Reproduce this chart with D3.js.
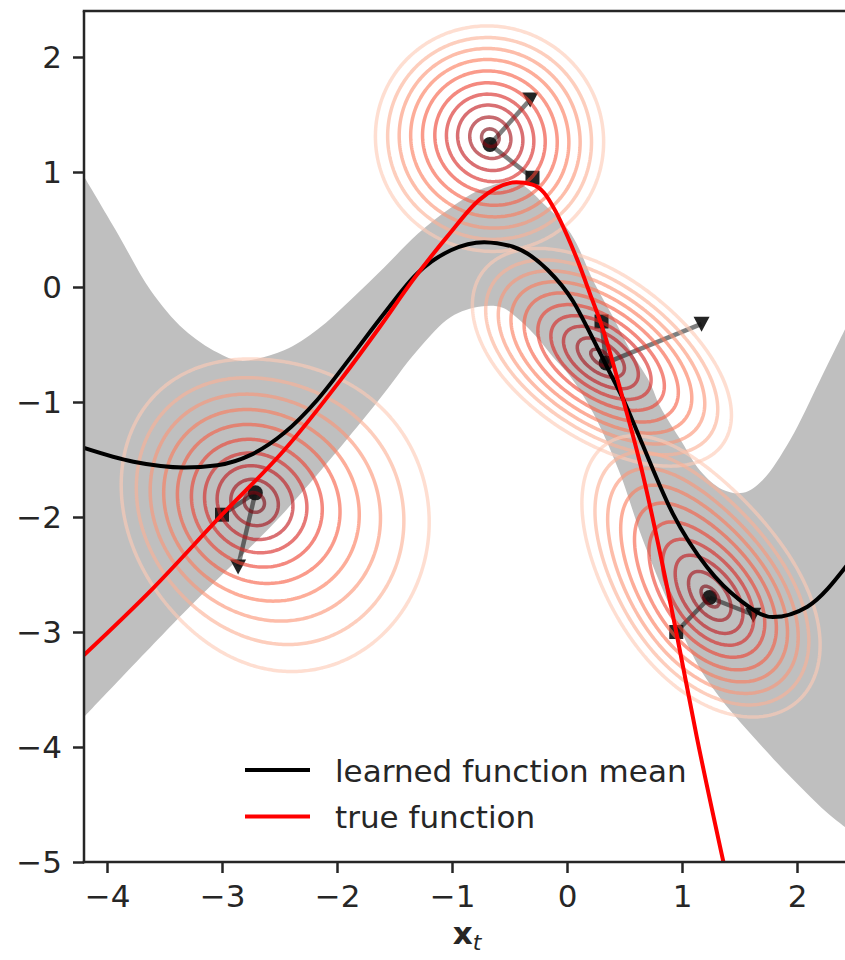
<!DOCTYPE html>
<html><head><meta charset="utf-8">
<script src="https://cdnjs.cloudflare.com/ajax/libs/d3/7.8.5/d3.min.js"></script>
<style>
body{margin:0;background:#fff}
svg text{font-family:"DejaVu Sans",sans-serif;fill:#262626}
</style>
</head><body>
<svg id="chart" width="845" height="960"></svg>
<script>
// ---------------- data ----------------
const meanX = [-4.2,-3.77,-3.33,-3.04,-2.75,-2.46,-2.17,-1.88,-1.59,-1.30,-1.01,-0.72,-0.47,-0.17,0.05,0.20,0.35,0.50,0.64,0.92,1.22,1.50,1.79,2.09,2.45];
const meanY = [-1.40,-1.52,-1.57,-1.55,-1.46,-1.27,-0.98,-0.61,-0.23,0.12,0.32,0.39,0.35,0.15,-0.12,-0.40,-0.70,-1.00,-1.33,-1.97,-2.44,-2.72,-2.87,-2.78,-2.40];

const trueX = [-4.2,-3.6,-3.0,-2.46,-1.97,-1.63,-1.34,-1.04,-0.76,-0.44,-0.30,-0.20,-0.10,0.0,0.10,0.20,0.30,0.48,0.64,0.95,1.13,1.36];
const trueY = [-3.2,-2.62,-1.98,-1.42,-0.81,-0.35,0.06,0.44,0.76,0.91,0.89,0.82,0.66,0.45,0.21,-0.06,-0.33,-0.95,-1.55,-3.0,-3.92,-5.0];

const upperX = [-4.2,-3.91,-3.62,-3.33,-3.04,-2.84,-2.46,-2.17,-1.88,-1.59,-1.30,-1.01,-0.72,-0.44,-0.20,0.03,0.24,0.40,0.55,0.72,0.81,1.0,1.16,1.35,1.53,1.70,1.94,2.20,2.45];
const upperY = [0.96,0.47,-0.03,-0.37,-0.57,-0.64,-0.55,-0.37,-0.11,0.17,0.46,0.69,0.86,0.91,0.72,0.47,0.03,-0.26,-0.55,-0.83,-1.04,-1.35,-1.60,-1.76,-1.79,-1.68,-1.33,-0.81,-0.30];

const lowerX = [-4.2,-3.33,-2.46,-1.65,-1.30,-1.01,-0.75,-0.56,-0.41,-0.26,-0.12,0.03,0.23,0.46,0.66,0.96,1.22,1.70,2.26,2.45];
const lowerY = [-3.74,-2.83,-1.96,-1.0,-0.55,-0.26,-0.17,-0.18,-0.29,-0.44,-0.61,-0.78,-1.10,-1.62,-2.20,-2.92,-3.42,-4.0,-4.57,-4.72];

// observed points (circles), targets (squares), predictions (triangles)
const circleX = [-0.67,-2.71,0.34,1.24];
const circleY = [1.24,-1.79,-0.66,-2.70];
const squareX = [-0.30,-3.00,0.30,0.95];
const squareY = [0.95,-1.98,-0.30,-3.00];
const triX = [-0.32,-2.86,1.17,1.62];
const triY = [1.63,-2.43,-0.32,-2.85];

// density clusters: [cx, cy, sMajor, sMinor, angleDeg, weight]
const clusterA = [[-0.67,1.27,0.41,0.40,0,1.0],[-0.74,1.47,0.36,0.34,0,0.28],[-0.45,1.05,0.3,0.3,0,0.12]];
const clusterB = [[-2.86,-1.80,0.40,0.40,0,1.0],[-2.62,-1.95,0.40,0.40,0,0.9],[-2.38,-2.05,0.64,0.70,0,0.6],[-3.1,-1.4,0.45,0.45,0,0.18]];
const clusterC = [[0.38,-0.68,0.50,0.28,-35,1.0],[0.05,-0.42,0.45,0.30,-35,0.35]];
const clusterD = [[1.12,-2.52,0.5,0.32,-55,1.0],[1.38,-2.86,0.42,0.30,-50,0.9],[0.75,-2.0,0.45,0.3,-60,0.25]];
const contourLevels = [0.047,0.087,0.146,0.23,0.345,0.49,0.64,0.78,0.906,0.982];

const xTicks = [-4,-3,-2,-1,0,1,2];
const yTicks = [-5,-4,-3,-2,-1,0,1,2];
const legendLabels = ["learned function mean","true function"];

// ---------------- layout ----------------
const L = 84, R = 848.75, T = 11, B = 862;
const x = d3.scaleLinear().domain([-4.2,2.45]).range([L,R]);
const y = d3.scaleLinear().domain([-5,2.4]).range([B,T]);
const svg = d3.select("#chart");

svg.append("defs").append("clipPath").attr("id","clip")
  .append("rect").attr("x",L).attr("y",T).attr("width",R-L).attr("height",B-T);
const plot = svg.append("g").attr("clip-path","url(#clip)");

const lineGen = d3.line().x(d=>x(d[0])).y(d=>y(d[1])).curve(d3.curveCatmullRom.alpha(0.5));
const smoothGen = d3.line().x(d=>x(d[0])).y(d=>y(d[1])).curve(d3.curveMonotoneX);
const zip = (a,b)=>a.map((v,i)=>[v,b[i]]);

// band
const up = zip(upperX,upperY), lo = zip(lowerX,lowerY).reverse();
const bandPath = lineGen(up) + "L" + lineGen(lo).slice(1) + "Z";
plot.append("path").attr("d",bandPath).attr("fill","#bfbfbf").attr("stroke","none");

// connecting lines
const links = plot.append("g").attr("stroke","#000").attr("stroke-opacity",0.5).attr("stroke-width",4.5);
circleX.forEach((cx,i)=>{
  links.append("line").attr("x1",x(cx)).attr("y1",y(circleY[i])).attr("x2",x(squareX[i])).attr("y2",y(squareY[i]));
  links.append("line").attr("x1",x(cx)).attr("y1",y(circleY[i])).attr("x2",x(triX[i])).attr("y2",y(triY[i]));
});
// markers
const mk = plot.append("g").attr("fill","#111").attr("fill-opacity",0.92);
squareX.forEach((sx,i)=>mk.append("rect").attr("x",x(sx)-7).attr("y",y(squareY[i])-7).attr("width",14).attr("height",14));
triX.forEach((tx,i)=>{
  const px=x(tx), py=y(triY[i]);
  mk.append("path").attr("d",`M${px-8},${py-7}L${px+8},${py-7}L${px},${py+8}Z`);
});
circleX.forEach((cx,i)=>mk.append("circle").attr("cx",x(cx)).attr("cy",y(circleY[i])).attr("r",7.5));

// density contours
const step = 2;
const nx = Math.ceil((R-L)/step), ny = Math.ceil((B-T)/step);
function dens(comps, X, Y){
  let s=0;
  for(const [cx,cy,s1,s2,ang,w] of comps){
    const a=ang*Math.PI/180, u=X-cx, v=Y-cy;
    const p=u*Math.cos(a)+v*Math.sin(a), q=-u*Math.sin(a)+v*Math.cos(a);
    s+=w*Math.exp(-0.5*(p*p/(s1*s1)+q*q/(s2*s2)));
  }
  return s;
}
const geo = d3.geoPath(d3.geoIdentity().scale(step).translate([L,T]));
const cg = plot.append("g").attr("fill","none").attr("stroke-width",3.5).attr("stroke-opacity",0.62).attr("stroke-linejoin","round");
[clusterA,clusterB,clusterC,clusterD].forEach(comps=>{
  const vals = new Float64Array(nx*ny);
  for(let j=0;j<ny;j++){
    const Y=y.invert(T+(j+0.5)*step);
    for(let i=0;i<nx;i++){
      vals[j*nx+i]=dens(comps,x.invert(L+(i+0.5)*step),Y);
    }
  }
  const mx=d3.max(vals);
  const cs=d3.contours().size([nx,ny]).thresholds(contourLevels.map(l=>l*mx))(vals);
  cs.forEach((c,k)=>{
    cg.append("path").attr("d",geo(c)).attr("stroke",d3.interpolateReds(0.2+0.75*k/(contourLevels.length-1)));
  });
});

// lines
plot.append("path").attr("d",smoothGen(zip(meanX,meanY))).attr("fill","none").attr("stroke","#000").attr("stroke-width",4);
plot.append("path").attr("d",smoothGen(zip(trueX,trueY))).attr("fill","none").attr("stroke","#ff0000").attr("stroke-width",4);

// axes
const axCol="#262626";
const fmt = d3.format("d");
const gx = svg.append("g").attr("transform",`translate(0,${B})`)
  .call(d3.axisBottom(x).tickValues(xTicks).tickFormat(fmt).tickSize(11).tickPadding(11).tickSizeOuter(0));
const gy = svg.append("g").attr("transform",`translate(${L},0)`)
  .call(d3.axisLeft(y).tickValues(yTicks).tickFormat(fmt).tickSize(11).tickPadding(11).tickSizeOuter(0));
[gx,gy].forEach(g=>{
  g.select(".domain").remove();
  g.selectAll(".tick line").attr("stroke",axCol).attr("stroke-width",2.5);
  g.selectAll(".tick text").attr("font-family","DejaVu Sans, sans-serif").attr("font-size",31).attr("fill",axCol);
});
gx.selectAll(".tick text").attr("dy","0.73em");
gy.selectAll(".tick text").attr("dy","0.35em");
// spines
svg.append("line").attr("x1",L).attr("x2",L).attr("y1",T).attr("y2",B+1.25).attr("stroke",axCol).attr("stroke-width",2.5);
svg.append("line").attr("x1",L-1.25).attr("x2",R).attr("y1",B).attr("y2",B).attr("stroke",axCol).attr("stroke-width",2.5);
svg.append("line").attr("x1",L-1.25).attr("x2",R).attr("y1",T).attr("y2",T).attr("stroke",axCol).attr("stroke-width",2.5);

// x label
const xl = svg.append("text").attr("x",467).attr("y",944).attr("text-anchor","middle").attr("font-size",31);
xl.append("tspan").attr("font-weight","bold").text("x");
xl.append("tspan").attr("font-style","italic").attr("font-size",22).attr("dy",6).text("t");

// legend
const legColors = ["#000","#ff0000"];
legendLabels.forEach((lab,i)=>{
  const ly = 770 + i*46.5;
  svg.append("line").attr("x1",245).attr("x2",310).attr("y1",ly).attr("y2",ly).attr("stroke",legColors[i]).attr("stroke-width",4);
  svg.append("text").attr("x",335).attr("y",ly+11.5).attr("font-size",31).text(lab);
});
</script>
</body></html>
